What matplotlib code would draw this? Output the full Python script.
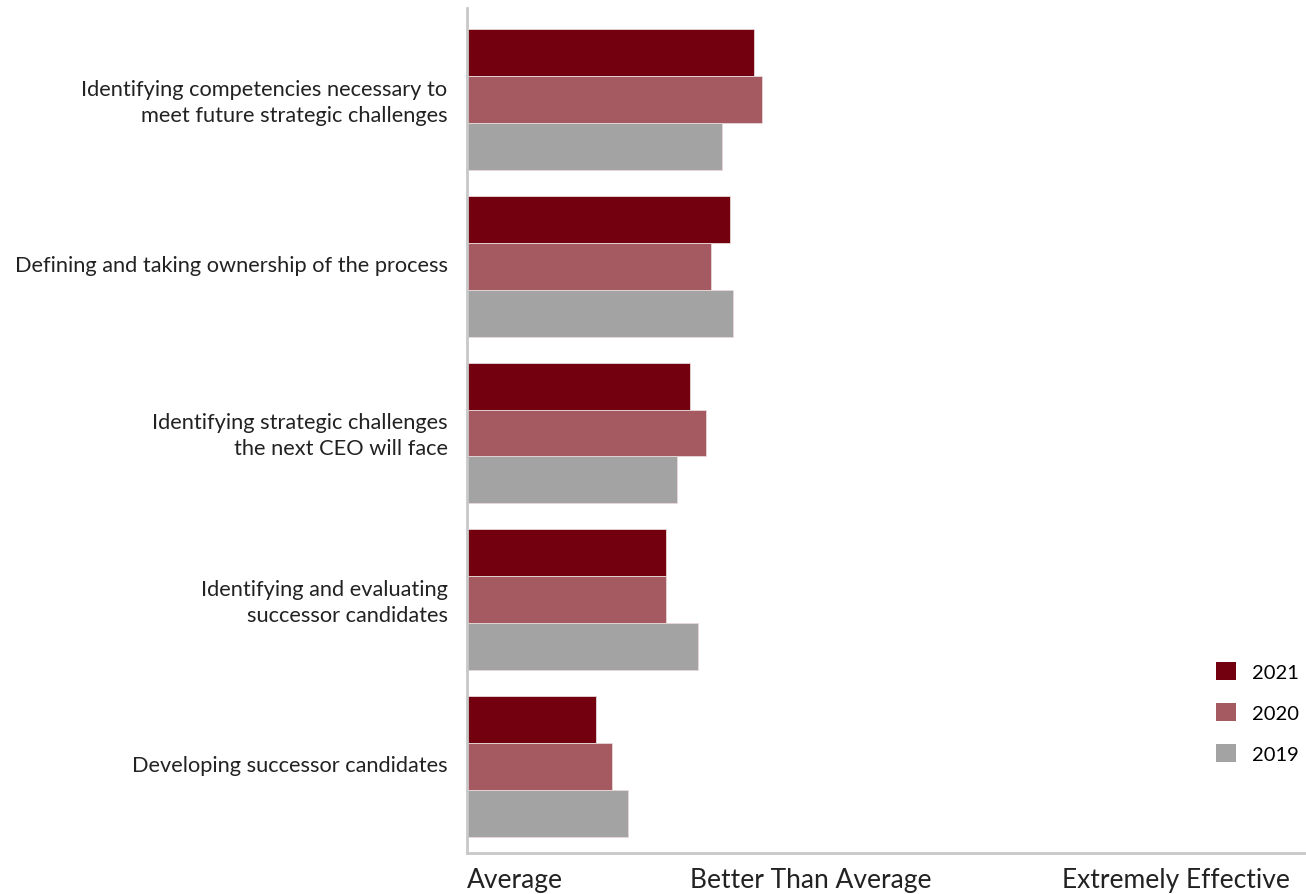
import matplotlib
matplotlib.use("Agg")
import matplotlib.pyplot as plt
import matplotlib.transforms as mtransforms
from matplotlib.patches import Patch
import numpy as np

plt.rcParams['font.family'] = ['Lato', 'DejaVu Sans']

categories = [
    "Identifying competencies necessary to\nmeet future strategic challenges",
    "Defining and taking ownership of the process",
    "Identifying strategic challenges\nthe next CEO will face",
    "Identifying and evaluating\nsuccessor candidates",
    "Developing successor candidates",
]
years = ["2021", "2020", "2019"]
# effectiveness scores (0 = Average, axis end = 1)
values_2021 = [0.342, 0.313, 0.266, 0.237, 0.154]
values_2020 = [0.352, 0.291, 0.285, 0.237, 0.173]
values_2019 = [0.304, 0.317, 0.250, 0.275, 0.192]
tick_labels = ["Average", "Better Than Average", "Extremely Effective"]
tick_values = [0.0, 0.41, 0.981]

colors = ["#72000F", "#A45A60", "#A3A3A3"]
series = [values_2021, values_2020, values_2019]

fig = plt.figure(figsize=(13.06, 8.95), dpi=100)
ax = fig.add_axes([467/1306, 1-854/895, 1-467/1306, (854-9)/895])

n = len(categories)
y = np.arange(n)
h = 0.2816
for i, (vals, c) in enumerate(zip(series, colors)):
    ax.barh(y + (i - 1) * h, vals, height=h, color=c, edgecolor="#E8D8D8",
            linewidth=0.6, label=years[i])

ax.set_xlim(0, 1)
ax.set_ylim(4.52, -0.55)
ax.set_yticks(y)
ax.set_yticklabels(categories, fontsize=15.7, color="#222222", linespacing=1.38)
ax.tick_params(axis='y', length=0, pad=14)
offset = mtransforms.ScaledTranslation(0, 3/100, fig.dpi_scale_trans)
for lab in ax.get_yticklabels():
    lab.set_transform(lab.get_transform() + offset)
ax.set_xticks(tick_values)
ax.set_xticklabels(tick_labels, fontsize=19, color="#222222")
for lab, ha in zip(ax.get_xticklabels(), ["left", "center", "right"]):
    lab.set_ha(ha)
ax.tick_params(axis='x', length=0, pad=10)

for s in ["top", "right"]:
    ax.spines[s].set_visible(False)
for s in ["left", "bottom"]:
    ax.spines[s].set_color("#C8C8C8")
    ax.spines[s].set_linewidth(2)

handles = [Patch(facecolor=c, edgecolor="none", label=yr) for c, yr in zip(colors, years)]
leg = fig.legend(handles=handles, loc="upper left", bbox_to_anchor=(1198/1306, 1-645/895),
                 frameon=False, fontsize=14.5, handlelength=1.0, handleheight=1.0,
                 handletextpad=0.8, labelspacing=1.1)

fig.savefig("out.png", dpi=100)
